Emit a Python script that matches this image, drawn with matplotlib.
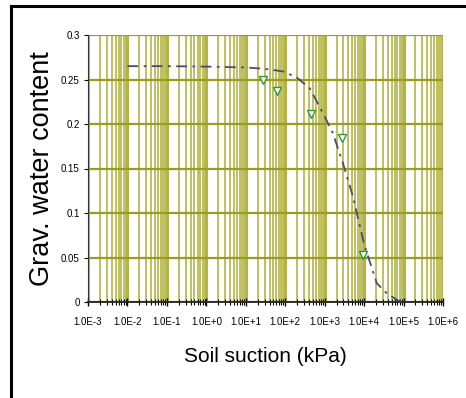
import numpy as np
import matplotlib.pyplot as plt
from matplotlib.lines import Line2D
from matplotlib.ticker import LogLocator, FixedLocator, NullFormatter

# measured points
suction = [27, 63, 440, 2700, 9500]
water = [0.2495, 0.2375, 0.2113, 0.184, 0.053]

# fitted curve
fit_x = [1e-2, 1e-1, 1e0, 1e1, 3e1, 9e1, 2e2, 2.6e2, 4.2e2, 1e3, 1.6e3, 2.9e3,
         5.2e3, 1e4, 2.1e4, 3.7e4, 7e4, 1e5]
fit_y = [0.265, 0.265, 0.2645, 0.2635, 0.262, 0.259, 0.252, 0.2477, 0.240, 0.2085,
         0.19, 0.156, 0.1186, 0.065, 0.021, 0.01, 0.002, 0.0]

xticks = [10.0 ** k for k in range(-3, 7)]
xlabels = ['1.0E-3', '1.0E-2', '1.0E-1', '1.0E+0', '1.0E+1', '1.0E+2',
           '1.0E+3', '1.0E+4', '1.0E+5', '1.0E+6']
yticks = [0, 0.05, 0.1, 0.15, 0.2, 0.25, 0.3]
ylabels = ['0', '0.05', '0.1', '0.15', '0.2', '0.25', '0.3']

plt.rcParams['font.family'] = ['Liberation Sans', 'DejaVu Sans']

fig = plt.figure(figsize=(4.66, 3.98), dpi=100)
W, H = 466, 398
# frame: only left and top edges are visible in the picture
fig.lines.append(Line2D([11 / W, 11 / W], [0, 1 - 6 / H], transform=fig.transFigure,
                        color='black', linewidth=2.2))
fig.lines.append(Line2D([11 / W, 1.0], [1 - 6 / H, 1 - 6 / H], transform=fig.transFigure,
                        color='black', linewidth=2.2))

ax = fig.add_axes([88 / W, 1 - 302 / H, (443 - 88) / W, (302 - 35) / H])
grid_col = '#b4b446'

ax.set_xscale('log')
ax.set_xlim(1e-3, 1e6)
ax.set_ylim(0, 0.3)

ax.xaxis.set_major_locator(FixedLocator(xticks))
ax.xaxis.set_minor_locator(LogLocator(base=10, subs=np.arange(2, 10), numticks=100))
ax.xaxis.set_minor_formatter(NullFormatter())
ax.set_xticklabels(xlabels)
ax.set_yticks(yticks)
ax.set_yticklabels(ylabels)

ax.grid(True, which='major', axis='x', color=grid_col, linewidth=2.2, zorder=0)
ax.grid(True, which='minor', axis='x', color=grid_col, linewidth=1.2, zorder=0)
ax.grid(True, which='major', axis='y', color='#9a9a24', linewidth=1.6, zorder=0)
ax.set_axisbelow(True)

ax.plot(fit_x, fit_y, color='#4a4a78', linestyle=(0, (6, 3, 1.5, 3)), linewidth=1.3, zorder=3)
ax.plot(suction, water, linestyle='none', marker='v', markersize=6,
        markerfacecolor='white', markeredgecolor='#2e9a2e', markeredgewidth=1.0, zorder=4)

for s in ['top', 'right']:
    ax.spines[s].set_visible(False)
ax.spines['left'].set_color('#333333')
ax.spines['bottom'].set_color('#222222')
ax.spines['bottom'].set_linewidth(1.3)

ax.tick_params(axis='x', which='major', direction='inout', length=6, width=1, labelsize=7, pad=8)
ax.tick_params(axis='x', which='minor', direction='inout', length=4, width=0.8)
ax.tick_params(axis='y', direction='out', length=3, labelsize=7, pad=3)

ax.set_xlabel('Soil suction (kPa)', fontsize=15, labelpad=14)
ax.set_ylabel('Grav. water content', fontsize=19.5, labelpad=4)

fig.savefig('out.png', dpi=100)
